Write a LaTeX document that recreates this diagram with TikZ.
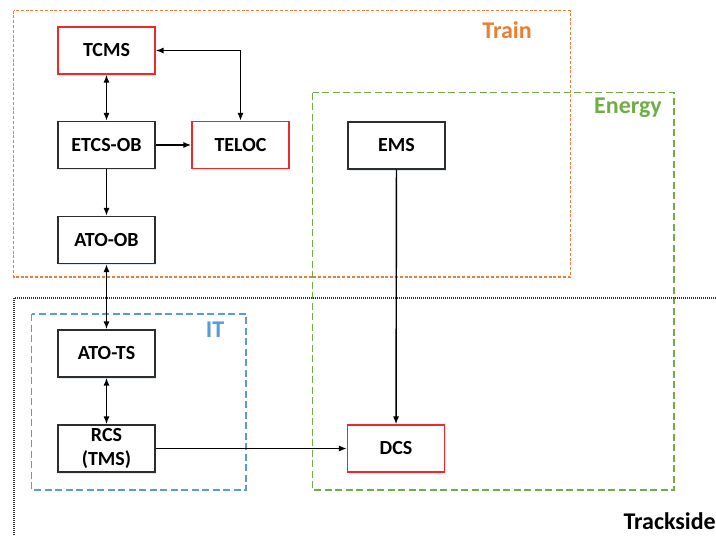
\documentclass[tikz,border=0pt]{standalone}
\usepackage{fontspec}
\setmainfont{Carlito}
\usetikzlibrary{arrows.meta,shadows}
\definecolor{trainc}{RGB}{237,125,49}
\definecolor{energyc}{RGB}{112,173,71}
\definecolor{itc}{RGB}{91,155,213}
\definecolor{redc}{RGB}{240,40,40}
\definecolor{boxc}{RGB}{45,45,45}
\tikzset{
  sysbox/.style={draw=boxc, line width=1.2pt, fill=white, minimum width=97pt, minimum height=47pt,
    inner sep=0pt, align=center, font=\fontsize{20}{24}\selectfont\bfseries,
    drop shadow={shadow xshift=1.2pt, shadow yshift=-1.5pt, opacity=0.18, fill=itc}},
  redbox/.style={sysbox, draw=redc},
  conn/.style={line width=1.4pt, -{Latex[length=8pt,width=6pt]}},
  bconn/.style={line width=1.4pt, {Latex[length=8pt,width=6pt]}-{Latex[length=8pt,width=6pt]}},
  grplabel/.style={font=\fontsize{24}{28}\selectfont\bfseries, inner sep=0pt},
}
\begin{document}
\begin{tikzpicture}[x=1pt,y=-1pt]
\fill[white] (0,0) rectangle (716,536);
\clip (0,0) rectangle (716,536);
% groups
\draw[trainc, line width=1.3pt, dash pattern=on 3pt off 1.8pt] (13.5,10.5) rectangle (570.5,277);
\draw[energyc, line width=1.2pt, dash pattern=on 7pt off 3.5pt] (312.5,92.5) rectangle (674,490);
\draw[itc, line width=1.2pt, dash pattern=on 7pt off 3.5pt] (31.5,314) rectangle (246,490);
\draw[black!80, line width=1.2pt, dash pattern=on 1pt off 1pt] (14,298) rectangle (730,560);
\node[grplabel, text=trainc] (ltrain) at (507,30) {Train};
\node[grplabel, text=energyc] (lenergy) at (628,108) {Energy};
\node[grplabel, text=itc] (lit) at (215,330) {IT};
\node[grplabel, anchor=east, text=black] (ltrack) at (716,521) {Trackside};
% boxes
\node[redbox] (tcms) at (106.5,50.5) {TCMS};
\node[sysbox] (etcs) at (106.5,145) {ETCS-OB};
\node[redbox] (teloc) at (240.5,145) {TELOC};
\node[sysbox] (atoob) at (106.5,240) {ATO-OB};
\node[sysbox] (ems) at (396.5,145.5) {EMS};
\node[sysbox] (atots) at (106.5,353.5) {ATO-TS};
\node[sysbox] (rcs) at (106.5,448.5) {RCS\\(TMS)};
\node[redbox] (dcs) at (396,448.5) {DCS};
% connectors
\draw[bconn] (tcms) -- (etcs);
\draw[bconn] (tcms.east) -- (teloc.north |- tcms.east) -- (teloc.north);
\draw[conn] (etcs) -- (teloc);
\draw[conn] (etcs) -- (atoob);
\draw[bconn] (atoob) -- (atots);
\draw[bconn] (atots) -- (rcs);
\draw[conn] (ems) -- (dcs);
\draw[conn] (rcs.east) -- (dcs.west |- rcs.east);
\end{tikzpicture}
\end{document}
